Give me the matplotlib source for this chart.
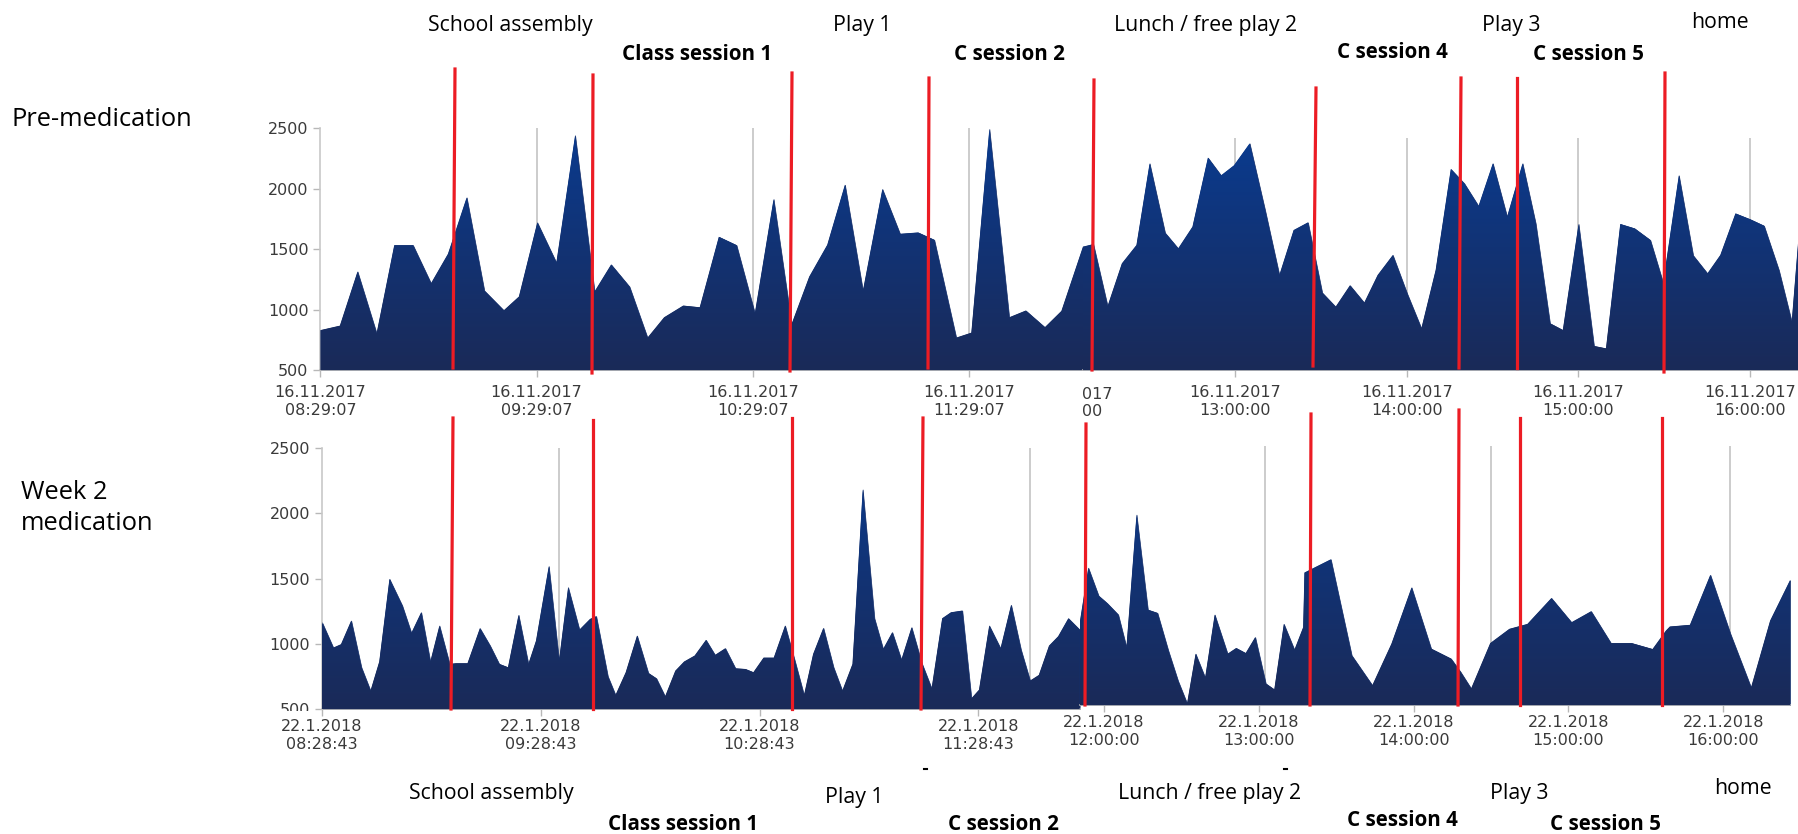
import numpy as np
import matplotlib.pyplot as plt
from matplotlib.colors import LinearSegmentedColormap
from matplotlib.lines import Line2D
from matplotlib.patches import Rectangle

# minutes after the first tick of each panel, and the activity counts
tl_min = [0, 5.4, 10.3, 15.6, 20.5, 25.7, 30.7, 35.4, 40.6, 45.5, 50.9, 55.1, 60.2, 65.5,
          70.7, 76.1, 80.7, 85.8, 90.8, 95.4, 100.7, 105.3, 110.6, 115.5, 120.6, 125.8,
          130.8, 135.7, 140.7, 145.6, 150.6, 156.0, 160.9, 165.9, 170.4, 176.5, 180.7,
          185.7, 191.2, 195.8, 201.1, 205.7, 211.7]
tl_val = [830, 867, 1315, 804, 1533, 1533, 1218, 1461, 1928, 1157, 994, 1108, 1721, 1389,
          2442, 1150, 1373, 1190, 768, 936, 1033, 1019, 1602, 1533, 970, 1914, 881, 1273,
          1536, 2033, 1157, 1997, 1627, 1638, 1577, 768, 809, 2494, 936, 992, 854, 989, 1522]

tr_min = [6.7, 10.3, 15.3, 20.3, 25.4, 30.0, 35.4, 40.0, 45.0, 50.4, 55.0, 59.5, 65.0, 70.4,
          75.4, 80.4, 85.4, 90.4, 95.1, 100.1, 105.1, 109.8, 115.1, 120.1, 125.1, 130.1,
          135.4, 140.1, 145.1, 150.1, 155.1, 160.5, 165.1, 170.1, 174.6, 180.1, 185.5,
          189.7, 194.7, 199.7, 205.2, 209.7, 215.2, 220.2, 225.2, 229.7, 235.0, 240.2,
          245.0, 250.2, 254.7, 256.9]
tr_val = [1562, 1584, 1051, 1418, 1576, 2279, 1682, 1547, 1734, 2328, 2176, 2262, 2451, 1877,
          1318, 1705, 1771, 1166, 1045, 1229, 1080, 1318, 1490, 1160, 859, 1361, 2230, 2107,
          1912, 2279, 1820, 2279, 1762, 902, 844, 1757, 707, 686, 1757, 1719, 1619, 1252,
          2176, 1487, 1332, 1490, 1848, 1797, 1742, 1361, 916, 1590]

bl_min = [0, 3.1, 5.2, 8.0, 10.8, 13.3, 15.7, 18.5, 22.0, 24.5, 27.2, 29.7, 32.2, 35.0, 36.7,
          39.9, 43.3, 46.1, 48.6, 51.0, 53.9, 56.6, 58.7, 62.2, 65.0, 67.5, 70.6, 73.5, 75.2,
          78.4, 80.5, 83.3, 86.4, 89.5, 91.7, 94.1, 96.9, 99.3, 102.2, 105.3, 107.8, 110.6,
          113.4, 116.1, 118.3, 121.1, 123.9, 127.0, 129.5, 132.2, 134.7, 137.5, 140.3, 142.7,
          145.5, 148.3, 151.5, 153.9, 156.4, 158.9, 161.7, 164.5, 167.2, 170.1, 172.5, 175.6,
          178.1, 180.2, 183.0, 186.1, 189.0, 191.7, 194.2, 196.6, 199.4, 201.9, 204.7, 207.8]
bl_val = [1166, 971, 997, 1178, 820, 641, 864, 1498, 1294, 1084, 1242, 864, 1140, 846, 851,
          851, 1120, 986, 846, 820, 1222, 846, 1025, 1596, 871, 1434, 1109, 1191, 1212, 751,
          608, 782, 1063, 776, 735, 597, 794, 864, 910, 1030, 915, 966, 812, 807, 782, 894,
          894, 1140, 889, 608, 922, 1122, 820, 641, 846, 2184, 1196, 961, 1089, 879, 1127,
          853, 659, 1196, 1242, 1255, 582, 648, 1140, 966, 1299, 956, 718, 761, 986, 1058,
          1196, 1109]

br_min = [-9.3, -6.1, -2.1, 1.3, 5.5, 8.7, 12.6, 17.0, 20.7, 24.9, 28.7, 32.2, 35.5, 39.2,
          42.9, 47.9, 51.2, 54.9, 58.6, 62.7, 66.0, 69.7, 73.8, 77.2, 77.7, 87.9, 96.0, 104.0,
          111.4, 119.2, 126.8, 134.5, 138.2, 142.3, 149.7, 157.1, 164.1, 173.4, 181.2, 188.8,
          196.5, 204.5, 212.6, 217.8, 219.3, 227.1, 235.0, 242.8, 250.8, 258.2, 265.9]
br_val = [1150, 1560, 1344, 1285, 1198, 947, 1970, 1236, 1211, 922, 687, 513, 896, 712, 1198,
          896, 940, 901, 1024, 666, 620, 1126, 927, 1101, 1523, 1625, 884, 653, 973, 1408,
          935, 858, 756, 628, 978, 1088, 1126, 1326, 1139, 1224, 978, 978, 932, 1075, 1106,
          1119, 1505, 1050, 636, 1152, 1464]

yticks = [500, 1000, 1500, 2000, 2500]
tl_ticks = [0, 60, 120, 180]
tl_labels = ["16.11.2017\n08:29:07", "16.11.2017\n09:29:07", "16.11.2017\n10:29:07", "16.11.2017\n11:29:07"]
tr_ticks = [60, 120, 180, 240]
tr_labels = ["16.11.2017\n13:00:00", "16.11.2017\n14:00:00", "16.11.2017\n15:00:00", "16.11.2017\n16:00:00"]
bl_ticks = [0, 60, 120, 180]
bl_labels = ["22.1.2018\n08:28:43", "22.1.2018\n09:28:43", "22.1.2018\n10:28:43", "22.1.2018\n11:28:43"]
br_ticks = [0, 60, 120, 180, 240]
br_labels = ["22.1.2018\n12:00:00", "22.1.2018\n13:00:00", "22.1.2018\n14:00:00", "22.1.2018\n15:00:00", "22.1.2018\n16:00:00"]
tl_grid = [60, 120, 180]
tr_grid = [60, 120, 180, 240]
bl_grid = [64.9, 194.1]
br_grid = [62.3, 150.1, 242.5]

W, H = 1798, 834
fig = plt.figure(figsize=(W / 100, H / 100), dpi=100)

def add_ax(x0, ytop, x1, ybot):
    return fig.add_axes([x0 / W, 1 - ybot / H, (x1 - x0) / W, (ybot - ytop) / H])

cmap = LinearSegmentedColormap.from_list('navy', ['#1a2a58', '#0a3b8f'])
grad = np.linspace(0, 1, 256).reshape(-1, 1)

def panel(ax, t, v, xlim, grid, ticks, labels, yaxis, pad):
    ax.vlines(grid, 500, 2500, color='#c8c8c8', lw=1.3, zorder=1)
    poly = ax.fill_between(t, 500, v, color='#142f6c', lw=0.5, zorder=2)
    img = ax.imshow(grad, extent=[xlim[0], xlim[1], 500, 2500], origin='lower',
                    aspect='auto', cmap=cmap, zorder=3)
    img.set_clip_path(poly.get_paths()[0], ax.transData)
    ax.set_xlim(xlim)
    ax.set_ylim(500, 2500)
    ax.set_xticks(ticks)
    ax.set_xticklabels(labels)
    for s in ['top', 'right']:
        ax.spines[s].set_visible(False)
    ax.spines['bottom'].set_color('#b8b8b8')
    ax.spines['bottom'].set_linewidth(1.2)
    if yaxis:
        ax.set_yticks(yticks)
        ax.spines['left'].set_color('#c8c8c8')
        ax.spines['left'].set_linewidth(1.2)
    else:
        ax.set_yticks([])
        ax.spines['left'].set_visible(False)
    ax.tick_params(colors='#b8b8b8', labelcolor='#3a3a3a', labelsize=11.5, length=5, width=1)
    ax.tick_params(axis='x', pad=pad)
    ax.patch.set_alpha(0)

ax1 = add_ax(320.4, 128.3, 1083, 370)
panel(ax1, tl_min, tl_val, (0, 211.7), tl_grid, tl_ticks, tl_labels, True, 6)
ax2 = add_ax(1083, 137.7, 1798, 370)
panel(ax2, tr_min, tr_val, (6.7, 256.9), tr_grid, tr_ticks, tr_labels, False, 6)
ax3 = add_ax(322, 448.3, 1080, 709)
panel(ax3, bl_min, bl_val, (0, 207.9), bl_grid, bl_ticks, bl_labels, True, 2.5)
ax4 = add_ax(1080, 446, 1790, 705)
panel(ax4, br_min, br_val, (-9.3, 265.9), br_grid, br_ticks, br_labels, False, 2.5)

# cut-off tick label of the hidden 12:00 tick in the top right screenshot
fig.text(1082 / W, 1 - 403 / H, "017\n00", fontsize=11.5, color='#3a3a3a',
         ha='left', va='center', linespacing=1.2)
# the bottom "500" is partly hidden in the original
fig.add_artist(Rectangle((240 / W, 1 - 719 / H), 78 / W, 8 / H, transform=fig.transFigure,
                         facecolor='white', edgecolor='none', zorder=10))

# red session boundaries, drawn over the screenshots
top_lines = [(455, 69, 453, 368), (593, 75, 592, 373), (792, 73, 790, 371), (929, 78, 928, 368),
             (1094, 80, 1092, 370), (1316, 88, 1313, 366), (1461, 78, 1459, 368),
             (1517, 78, 1517, 368), (1665, 73, 1664, 372)]
bot_lines = [(453, 418, 451, 709), (593, 420, 593, 709), (792, 418, 792, 709), (923, 418, 921, 709),
             (1086, 424, 1085, 705), (1311, 414, 1310, 705), (1459, 410, 1458, 705),
             (1520, 418, 1520, 705), (1662, 418, 1662, 705)]
for x0, y0, x1, y1 in top_lines + bot_lines:
    fig.add_artist(Line2D([x0 / W, x1 / W], [1 - y0 / H, 1 - y1 / H], color='#ec1c24',
                          lw=2.3, zorder=20))
for x in [924, 1284]:
    fig.add_artist(Line2D([x / W, (x + 3) / W], [1 - 769 / H, 1 - 769 / H], color='black', lw=1.5))

fam = ['Open Sans', 'DejaVu Sans']
fig.text(12 / W, 1 - 119 / H, "Pre-medication", fontsize=18.4, family=fam, va='center', ha='left')
fig.text(21 / W, 1 - 508 / H, "Week 2\nmedication", fontsize=18.4, family=fam, va='center',
         ha='left', linespacing=1.3)

top_notes = [("School assembly", 510, 25, 'normal'), ("Class session 1", 697, 55, 'bold'),
             ("Play 1", 862, 25, 'normal'), ("C session 2", 1009, 54, 'bold'),
             ("Lunch / free play 2", 1206, 25, 'normal'), ("C session 4", 1392, 52, 'bold'),
             ("Play 3", 1511, 25, 'normal'), ("C session 5", 1588, 54, 'bold'),
             ("home", 1720, 23, 'normal')]
bot_notes = [("School assembly", 491, 793, 'normal'), ("Class session 1", 683, 825, 'bold'),
             ("Play 1", 854, 797, 'normal'), ("C session 2", 1003, 824, 'bold'),
             ("Lunch / free play 2", 1210, 793, 'normal'), ("C session 4", 1402, 821, 'bold'),
             ("Play 3", 1519, 794, 'normal'), ("C session 5", 1605, 824, 'bold'),
             ("home", 1743, 789, 'normal')]
for txt, x, y, w in top_notes + bot_notes:
    size = 14.8 if w == 'bold' else 15.3
    fig.text(x / W, 1 - y / H, txt, fontsize=size, family=fam, weight=w, ha='center', va='center')

fig.savefig('out.png', dpi=100)
